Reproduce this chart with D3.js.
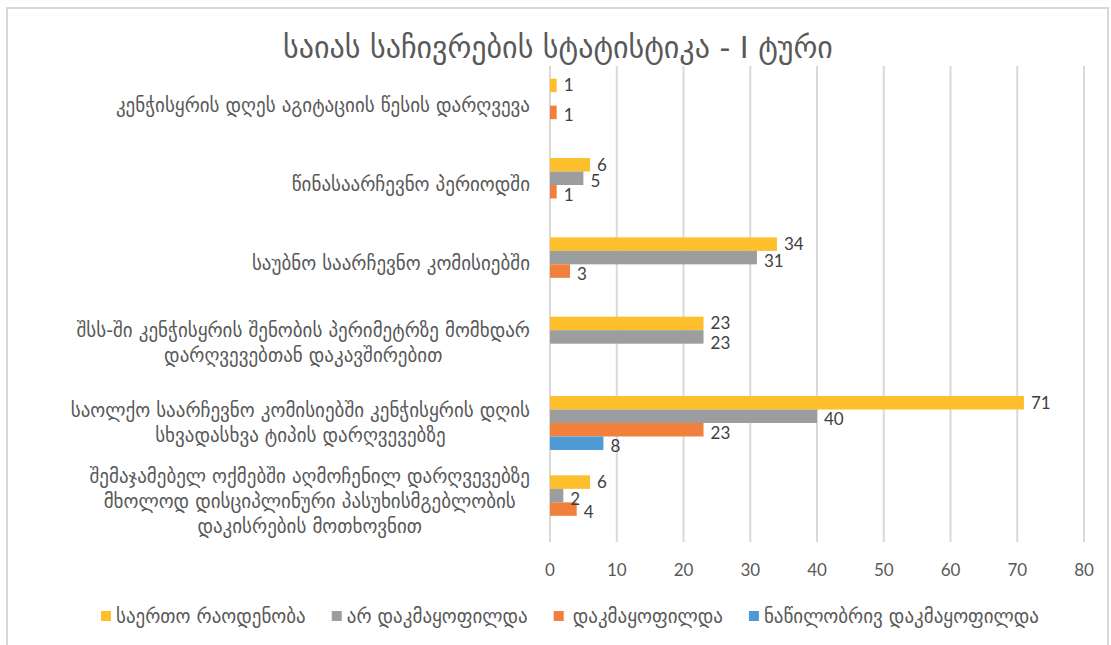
<!DOCTYPE html>
<html>
<head>
<meta charset="utf-8">
<script src="https://cdn.jsdelivr.net/npm/d3@7"></script>
<style>
  html, body { margin: 0; padding: 0; background: #ffffff; }
  svg { display: block; }
</style>
</head>
<body>
<svg id="chart" width="1111" height="645"></svg>
<script>
// Chart title
const chartTitle = "საიას საჩივრების სტატისტიკა - I ტური";

// Category labels (top to bottom), each split into display lines
const categories = [
  ["კენჭისყრის დღეს აგიტაციის წესის დარღვევა"],
  ["წინასაარჩევნო პერიოდში"],
  ["საუბნო საარჩევნო კომისიებში"],
  ["შსს-ში კენჭისყრის შენობის პერიმეტრზე მომხდარ", "დარღვევებთან დაკავშირებით"],
  ["საოლქო საარჩევნო კომისიებში კენჭისყრის დღის", "სხვადასხვა ტიპის დარღვევებზე"],
  ["შემაჯამებელ ოქმებში აღმოჩენილ დარღვევებზე", "მხოლოდ დისციპლინური პასუხისმგებლობის", "დაკისრების მოთხოვნით"]
];

// Series names and values (null = no bar)
const seriesNames = ["საერთო რაოდენობა", "არ დაკმაყოფილდა", "დაკმაყოფილდა", "ნაწილობრივ დაკმაყოფილდა"];
const totalCount         = [1, 6, 34, 23, 71, 6];
const notSatisfied       = [null, 5, 31, 23, 40, 2];
const satisfied          = [1, 1, 3, null, 23, 4];
const partiallySatisfied = [null, null, null, null, 8, null];
const seriesColors = ["#fdbf2b", "#9b9d9e", "#f0803c", "#4f9ad4"];

// Value axis ticks
const xTicks = [0, 10, 20, 30, 40, 50, 60, 70, 80];

const seriesValues = [totalCount, notSatisfied, satisfied, partiallySatisfied];

const geoFont = "'DejaVu Sans', sans-serif";
const numFont = "Lato, 'Open Sans', sans-serif";
const textColor = "#595959";

const svg = d3.select("#chart");

// outer chart border
svg.append("rect")
  .attr("x", 7).attr("y", 8)
  .attr("width", 1101).attr("height", 660)
  .attr("fill", "#ffffff")
  .attr("stroke", "#d9d9d9")
  .attr("stroke-width", 2);

const x = d3.scaleLinear().domain([0, 80]).range([550, 1084]);
const y = d3.scaleBand().domain(d3.range(categories.length))
  .range([66, 542]).paddingInner(0.32).paddingOuter(0.16);
const ySub = d3.scaleBand().domain(d3.range(seriesNames.length))
  .range([0, y.bandwidth()]);

// title
svg.append("text")
  .attr("x", 558).attr("y", 58)
  .attr("text-anchor", "middle")
  .attr("font-family", geoFont)
  .attr("font-size", 30)
  .attr("fill", textColor)
  .text(chartTitle);

// vertical gridlines
svg.append("g")
  .selectAll("line")
  .data(xTicks)
  .join("line")
  .attr("x1", d => x(d)).attr("x2", d => x(d))
  .attr("y1", 66).attr("y2", 542)
  .attr("stroke", "#d9d9d9")
  .attr("stroke-width", 2);

// x tick labels
svg.append("g")
  .selectAll("text")
  .data(xTicks)
  .join("text")
  .attr("x", d => x(d))
  .attr("y", 576)
  .attr("text-anchor", "middle")
  .attr("font-family", numFont)
  .attr("font-size", 17)
  .attr("fill", textColor)
  .text(d => d);

// category labels
const lineH = 25;
const catG = svg.append("g");
categories.forEach((lines, i) => {
  const cy = y(i) + y.bandwidth() / 2;
  const t = catG.append("text")
    .attr("font-family", geoFont)
    .attr("font-size", 19)
    .attr("fill", textColor)
    .attr("text-anchor", "middle");
  const tspans = lines.map((ln, k) => t.append("tspan")
    .attr("y", cy + (k - (lines.length - 1) / 2) * lineH + 6)
    .text(ln));
  // right-align the block at x=530 while centring the lines within it
  const w = d3.max(tspans, s => s.node().getComputedTextLength());
  tspans.forEach(s => s.attr("x", 530 - w / 2));
});

// bars
seriesValues.forEach((vals, s) => {
  const rows = vals.map((v, i) => ({ v, i })).filter(d => d.v !== null);
  svg.append("g")
    .selectAll("rect")
    .data(rows)
    .join("rect")
    .attr("x", x(0))
    .attr("y", d => y(d.i) + ySub(s))
    .attr("width", d => x(d.v) - x(0))
    .attr("height", ySub.bandwidth())
    .attr("fill", seriesColors[s]);
});

// value labels: centred on each bar, nudged down when they would collide
// with the label of the bar above in the same group
const labelG = svg.append("g");
categories.forEach((_, i) => {
  let prev = null;
  seriesValues.forEach((vals, s) => {
    const v = vals[i];
    if (v === null) return;
    const x0 = x(v) + 7;
    const t = labelG.append("text")
      .attr("x", x0)
      .attr("font-family", numFont)
      .attr("font-size", 17)
      .attr("fill", "#404040")
      .text(v);
    const w = t.node().getComputedTextLength();
    let cy = y(i) + ySub(s) + ySub.bandwidth() / 2 + (s > 0 ? 3 : 0);
    if (prev) {
      const overlap = Math.min(prev.x1, x0 + w) - Math.max(prev.x0, x0);
      if (overlap > 0) {
        const minGap = overlap > 0.8 * w ? 20 : 15;
        cy = Math.max(cy, prev.cy + minGap);
      }
    }
    t.attr("y", cy + 6);
    prev = { x0, x1: x0 + w, cy };
  });
});

// legend, centred under the chart
const legend = svg.append("g");
const items = seriesNames.map((name, i) => {
  const g = legend.append("g");
  g.append("rect").attr("width", 10).attr("height", 10).attr("y", -12)
    .attr("fill", seriesColors[i]);
  const tx = i === 2 ? 19 : 15;
  const t = g.append("text")
    .attr("x", tx)
    .attr("font-family", geoFont)
    .attr("font-size", 19)
    .attr("fill", textColor)
    .text(name);
  return { g, w: tx + t.node().getComputedTextLength() };
});
const gap = 26;
const totalW = d3.sum(items, d => d.w) + gap * (items.length - 1);
let lx = 570 - totalW / 2;
items.forEach(it => {
  it.g.attr("transform", `translate(${lx},623)`);
  lx += it.w + gap;
});
</script>
</body>
</html>
